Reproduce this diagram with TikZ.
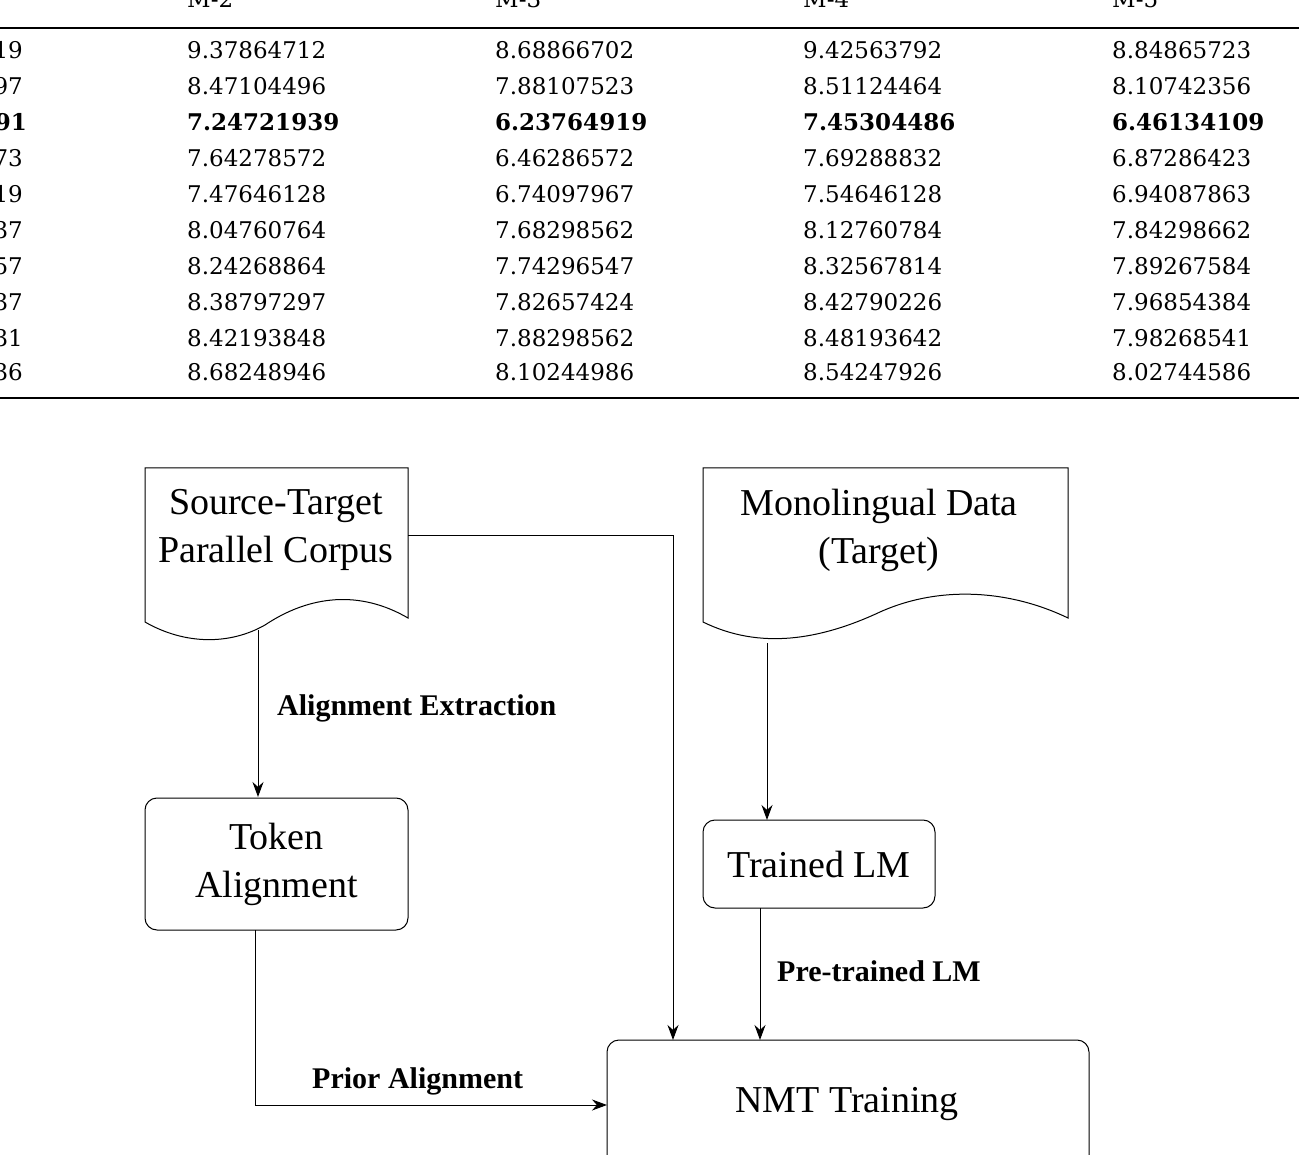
\documentclass[tikz,border=0pt]{standalone}
\usepackage{fontspec}
\setmainfont{Liberation Serif}
\newfontfamily\tabfont{DejaVu Serif}
\usetikzlibrary{arrows.meta}
\begin{document}
\begin{tikzpicture}[x=1pt,y=-1pt,
  tab/.style={font=\tabfont\fontsize{23}{26}\selectfont,anchor=west,inner sep=0},
  tabb/.style={tab,font=\tabfont\bfseries\fontsize{23}{26}\selectfont},
  box/.style={draw,line width=1pt,rounded corners=12pt,align=center,font=\fontsize{38}{48}\selectfont},
  lab/.style={font=\bfseries\fontsize{30}{32}\selectfont,anchor=west,inner sep=0},
  arr/.style={draw,line width=1pt,-{Stealth[length=15pt,width=11pt]}},
  doc/.style={draw,line width=1pt,fill=white}]
\useasboundingbox (0,0) rectangle (1299,1155);
\clip (0,0) rectangle (1299,1155);
% table
\foreach \x/\t in {187/M-2,495/M-3,803/M-4,1112/M-5}
  \node[tab] (h\t) at (\x,-1) {\t};
\draw[line width=1.6pt] (0,28) -- (1299,28);
\draw[line width=1.6pt] (0,398) -- (1299,398);
\foreach \r/\a/\b/\c/\d/\e [count=\i] in {
 50/19/9.37864712/8.68866702/9.42563792/8.84865723,
 86/97/8.47104496/7.88107523/8.51124464/8.10742356,
 158/73/7.64278572/6.46286572/7.69288832/6.87286423,
 194/19/7.47646128/6.74097967/7.54646128/6.94087863,
 230/37/8.04760764/7.68298562/8.12760784/7.84298662,
 266/57/8.24268864/7.74296547/8.32567814/7.89267584,
 302/37/8.38797297/7.82657424/8.42790226/7.96854384,
 338/31/8.42193848/7.88298562/8.48193642/7.98268541,
 372/36/8.68248946/8.10244986/8.54247926/8.02744586}{
  \node[tab,anchor=east] (a\i) at (23,\r) {\a};
  \node[tab] (b\i) at (187,\r) {\b};
  \node[tab] (c\i) at (495,\r) {\c};
  \node[tab] (d\i) at (803,\r) {\d};
  \node[tab] (e\i) at (1112,\r) {\e};
}
\node[tabb,anchor=east] (ab) at (27,122) {91};
\node[tabb] (bb) at (187,122) {7.24721939};
\node[tabb] (cb) at (495,122) {6.23764919};
\node[tabb] (db) at (803,122) {7.45304486};
\node[tabb] (eb) at (1112,122) {6.46134109};
% documents
\draw[doc] (145,468) -- (408,468) -- (408,618) .. controls (360,590) and (310,595) .. (265,625) .. controls (230,645) and (185,645) .. (145,622) -- cycle;
\node[align=center,font=\fontsize{38}{48}\selectfont,inner sep=0] (src) at (276,530) {Source-Target\\Parallel Corpus};
\coordinate (srcb) at (258,630);
\coordinate (srcr) at (408,535);
\draw[doc] (703,468) -- (1068,468) -- (1068,618) .. controls (1010,590) and (940,585) .. (880,612) .. controls (820,640) and (760,650) .. (703,622) -- cycle;
\node[align=center,font=\fontsize{38}{48}\selectfont,inner sep=0] (mono) at (879,530) {Monolingual Data\\(Target)};
\coordinate (monob) at (767,643);
% boxes
\node[box,minimum width=263pt,minimum height=132pt] (tok) at (276.5,864) {Token\\Alignment};
\node[box,minimum width=232pt,minimum height=88pt] (lm) at (819,864) {Trained LM};
\draw[line width=1pt,rounded corners=12pt] (607,1170) -- (607,1040) -- (1089,1040) -- (1089,1170);
\node[font=\fontsize{38}{48}\selectfont] (nmt) at (847,1104) {NMT Training};
\coordinate (nmtt1) at (673,1040);
\coordinate (nmtt2) at (760,1040);
\coordinate (nmtl) at (607,1105);
% arrows
\draw[arr] (srcb) -- (258,797);
\node[lab] (l1) at (277,708) {Alignment Extraction};
\draw[arr] (srcr) -- (673,535) -- (nmtt1);
\draw[arr] (monob) -- (767,820);
\draw[arr] (760,908) -- (nmtt2);
\node[lab] (l2) at (777,971) {Pre-trained LM};
\draw[arr] (255,930) -- (255,1105) -- (nmtl);
\node[lab] (l3) at (312,1081) {Prior Alignment};
\end{tikzpicture}
\end{document}
